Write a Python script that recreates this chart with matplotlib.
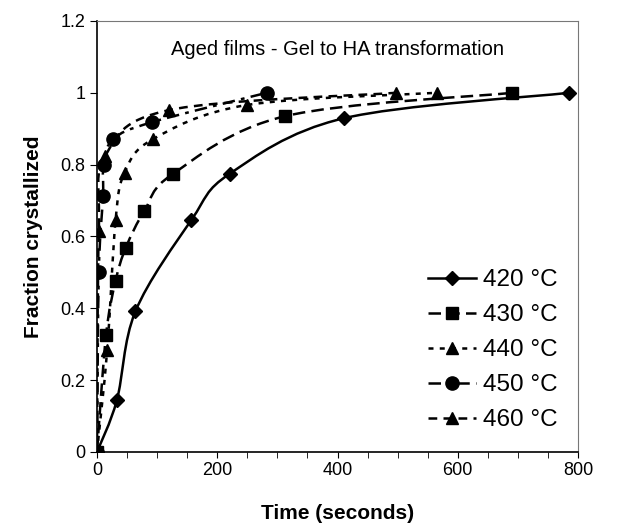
import numpy as np
import matplotlib
matplotlib.use('Agg')
import matplotlib.pyplot as plt
from matplotlib.path import Path
from matplotlib.patches import PathPatch
from matplotlib.lines import Line2D

plt.rcParams['font.family'] = ['Liberation Sans', 'DejaVu Sans']

# data (time in seconds, fraction crystallized)
t420 = [0, 33, 64, 157, 221, 410, 785]
f420 = [0, 0.144, 0.392, 0.646, 0.775, 0.929, 1.0]

t430 = [0, 15, 31, 48, 79, 126, 313, 691]
f430 = [0, 0.325, 0.477, 0.569, 0.672, 0.774, 0.935, 1.0]

t440 = [0, 17, 31, 46, 93, 249, 565]
f440 = [0, 0.285, 0.647, 0.778, 0.871, 0.966, 1.0]

t450 = [0, 3, 10, 11, 27, 91, 282]
f450 = [0, 0.50, 0.712, 0.80, 0.871, 0.918, 1.0]

t460 = [0, 3, 14, 120, 497]
f460 = [0, 0.615, 0.825, 0.952, 1.0]

labels = ['420 °C', '430 °C', '440 °C', '450 °C', '460 °C']
markers = ['D', 's', '^', 'o', '^']
msizes = [7.5, 9, 9, 9.5, 9]
styles = ['-', (0, (5, 2.5)), (0, (2, 2.5)), (0, (5, 2.5, 1.5, 2.5)), (0, (3.5, 2.5))]


def smooth_path(x, y):
    # excel-like smoothed line: catmull-rom segments as cubic beziers
    p = np.column_stack([x, y]).astype(float)
    n = len(p)
    verts = [p[0]]
    codes = [Path.MOVETO]
    for i in range(n - 1):
        p0 = p[i - 1] if i > 0 else p[i]
        p3 = p[i + 2] if i + 2 < n else p[i + 1]
        c1 = p[i] + (p[i + 1] - p0) / 6
        c2 = p[i + 1] - (p3 - p[i]) / 6
        verts += [c1, c2, p[i + 1]]
        codes += [Path.CURVE4] * 3
    return Path(verts, codes)


fig = plt.figure(figsize=(6.27, 5.30), dpi=100)
ax = fig.add_axes([0.1547, 0.1472, 0.7672, 0.8132])

series = [(t420, f420), (t430, f430), (t440, f440), (t450, f450), (t460, f460)]
handles = []
for (t, f), lab, m, ms, ls in zip(series, labels, markers, msizes, styles):
    patch = PathPatch(smooth_path(t, f), fill=False, edgecolor='black', linewidth=1.8, linestyle=ls)
    ax.add_patch(patch)
    ax.plot(t, f, linestyle='none', marker=m, markersize=ms, color='black')
    handles.append(Line2D([], [], color='black', linewidth=1.8, linestyle=ls, marker=m, markersize=ms))

ax.set_xlim(0, 800)
ax.set_ylim(0, 1.2)
ax.set_xticks(np.arange(0, 801, 200))
ax.set_xticks(np.arange(0, 801, 50), minor=True)
ax.set_yticks(np.arange(0, 1.21, 0.2))
ax.yaxis.set_major_formatter(plt.FormatStrFormatter('%g'))
ax.tick_params(axis='both', which='both', direction='out', labelsize=13, colors='black')
ax.tick_params(axis='x', which='both', length=4)
ax.tick_params(axis='y', length=5)
for s in ['left', 'bottom']:
    ax.spines[s].set_linewidth(1.2)
for s in ['top', 'right']:
    ax.spines[s].set_linewidth(0.8)
    ax.spines[s].set_color('#777777')

ax.set_xlabel('Time (seconds)', fontsize=15, fontweight='bold', labelpad=18)
ax.set_ylabel('Fraction crystallized', fontsize=15, fontweight='bold', labelpad=12)
ax.text(0.5, 0.935, 'Aged films - Gel to HA transformation', transform=ax.transAxes,
        ha='center', va='center', fontsize=14.5)

ax.legend(handles, labels, loc='upper left', bbox_to_anchor=(0.667, 0.446), frameon=False,
          fontsize=17.5, handlelength=2.0, handletextpad=0.3, labelspacing=0.53,
          borderaxespad=0, numpoints=1)

plt.savefig('out.png', dpi=100)
